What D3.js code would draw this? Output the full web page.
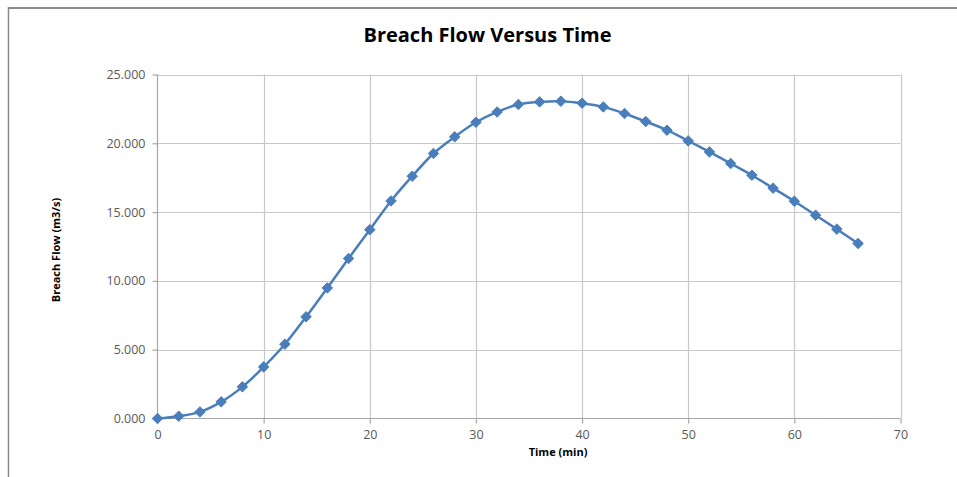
<!DOCTYPE html>
<html><head><meta charset="utf-8">
<script src="https://cdn.jsdelivr.net/npm/d3@7"></script>
<style>body{margin:0;background:#fff;}svg{display:block;}</style>
</head><body>
<svg id="c" width="957" height="477"></svg>
<script>
const timeMin = [0,2,4,6,8,10,12,14,16,18,20,22,24,26,28,30,32,34,36,38,40,42,44,46,48,50,52,54,56,58,60,62,64,66];
const breachFlow = [0,167,480,1210,2300,3750,5400,7390,9490,11630,13720,15810,17610,19260,20470,21530,22280,22820,23010,23060,22915,22645,22165,21580,20950,20175,19375,18530,17680,16740,15790,14775,13760,12720];
const xTicks = [0,10,20,30,40,50,60,70];
const yTicks = [0,5000,10000,15000,20000,25000];
const yTickLabels = ["0.000","5.000","10.000","15.000","20.000","25.000"];
const title = "Breach Flow Versus Time";
const xTitle = "Time (min)";
const yTitle = "Breach Flow (m3/s)";

const svg = d3.select("#c");
const font = "'Open Sans', 'Noto Sans', sans-serif";
// frame
svg.append("line").attr("x1",8).attr("y1",8).attr("x2",957).attr("y2",8).attr("stroke","#8a8a8a").attr("stroke-width",2);
svg.append("line").attr("x1",8.5).attr("y1",7).attr("x2",8.5).attr("y2",477).attr("stroke","#8a8a8a").attr("stroke-width",1.5);

const x = d3.scaleLinear().domain([0,70]).range([157.5,900.5]);
const y = d3.scaleLinear().domain([0,25000]).range([418.5,74.5]);

// gridlines
const g = svg.append("g");
g.selectAll(".vg").data(xTicks.slice(1)).join("line")
  .attr("x1",d=>Math.round(x(d))+0.5).attr("x2",d=>Math.round(x(d))+0.5)
  .attr("y1",y(25000)).attr("y2",y(0)).attr("stroke","#c8c8c8").attr("stroke-width",1.2);
g.selectAll(".hg").data(yTicks.slice(1)).join("line")
  .attr("y1",d=>Math.round(y(d))+0.5).attr("y2",d=>Math.round(y(d))+0.5)
  .attr("x1",x(0)).attr("x2",x(70)).attr("stroke","#c8c8c8").attr("stroke-width",1.2);

// axes
const xAxis = d3.axisBottom(x).tickValues(xTicks).tickSize(5).tickPadding(7).tickFormat(d3.format("d"));
const yAxis = d3.axisLeft(y).tickValues(yTicks).tickSize(5).tickPadding(7).tickFormat((d,i)=>yTickLabels[i]);
const gx = svg.append("g").attr("transform",`translate(0,${y(0)})`).call(xAxis);
const gy = svg.append("g").attr("transform",`translate(${x(0)},0)`).call(yAxis);
[gx,gy].forEach(a=>{
  a.select(".domain").attr("stroke","#a6a6a6").attr("stroke-width",1.2);
  a.selectAll(".tick line").attr("stroke","#a6a6a6").attr("stroke-width",1.2);
  a.selectAll("text").attr("fill","#595959").style("font-family",font).style("font-size","12.5px");
});
gx.select(".domain").attr("d",`M${x(0)},0H${x(70)}`);
gy.select(".domain").attr("d",`M0,${y(0)}V${y(25000)}`);

// title
svg.append("text").attr("x",487.5).attr("y",42).attr("text-anchor","middle")
  .style("font-family",font).style("font-weight","bold").style("font-size","20px").attr("fill","#000")
  .text(title);
svg.append("text").attr("x",558).attr("y",456).attr("text-anchor","middle")
  .style("font-family",font).style("font-weight","bold").style("font-size","11px").attr("fill","#000")
  .text(xTitle);
svg.append("text").attr("transform","translate(60,250) rotate(-90)").attr("text-anchor","middle")
  .style("font-family",font).style("font-weight","bold").style("font-size","11px").attr("fill","#000")
  .text(yTitle);

// line
const pts = timeMin.map((t,i)=>[t,breachFlow[i]]);
const line = d3.line().x(d=>x(d[0])).y(d=>y(d[1])).curve(d3.curveCatmullRom.alpha(0.5));
svg.append("path").datum(pts).attr("d",line).attr("fill","none").attr("stroke","#4a7ebb").attr("stroke-width",2.5);
const sym = d3.symbol().type(d3.symbolDiamond2).size(70);
svg.selectAll(".m").data(pts).join("path")
  .attr("transform",d=>`translate(${x(d[0])},${y(d[1])})`)
  .attr("d",sym).attr("fill","#4a7ebb").attr("stroke","#4a7ebb").attr("stroke-width",1);
</script>
</body></html>
